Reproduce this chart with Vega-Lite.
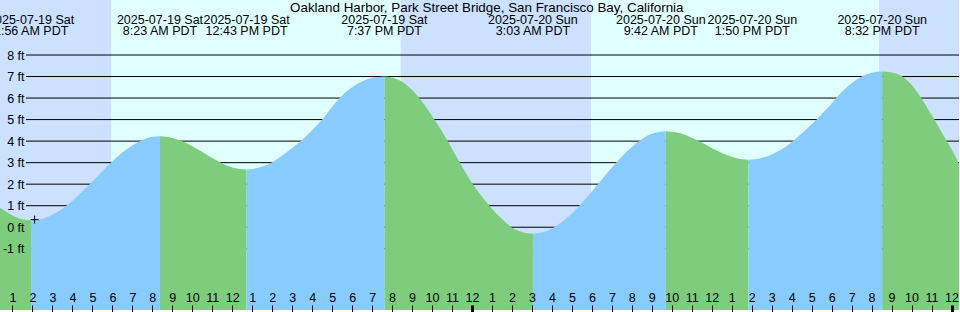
{
  "$schema": "https://vega.github.io/schema/vega-lite/v6.json",
  "width": 960,
  "height": 312,
  "autosize": {"type": "fit", "contains": "padding"},
  "padding": 0,
  "background": "#ffffff",
  "config": {
    "view": {"stroke": null},
    "axis": {"labelFont": "Liberation Sans", "labelFontSize": 12.5, "labelColor": "#000000", "labelOverlap": false}
  },
  "datasets": {
    "bands": [
      {"start": 0.375, "end": 5.96, "kind": "night"},
      {"start": 5.96, "end": 20.425, "kind": "day"},
      {"start": 20.425, "end": 29.96, "kind": "night"},
      {"start": 29.96, "end": 44.375, "kind": "day"},
      {"start": 44.375, "end": 48.375, "kind": "night"}
    ],
    "levels": [{"ft": -1}, {"ft": 0}, {"ft": 1}, {"ft": 2}, {"ft": 3}, {"ft": 4}, {"ft": 5}, {"ft": 6}, {"ft": 7}, {"ft": 8}],
    "tide": [
      {"t": 0.375, "ft": 0.90, "seg": 0, "kind": "falling"},
      {"t": 1.0, "ft": 0.55, "seg": 0, "kind": "falling"},
      {"t": 1.5, "ft": 0.37, "seg": 0, "kind": "falling"},
      {"t": 1.933, "ft": 0.32, "seg": 0, "kind": "falling"},
      {"t": 1.933, "ft": 0.32, "seg": 1, "kind": "rising"},
      {"t": 2.5, "ft": 0.39, "seg": 1, "kind": "rising"},
      {"t": 3.0, "ft": 0.58, "seg": 1, "kind": "rising"},
      {"t": 3.5, "ft": 0.86, "seg": 1, "kind": "rising"},
      {"t": 4.0, "ft": 1.23, "seg": 1, "kind": "rising"},
      {"t": 4.5, "ft": 1.66, "seg": 1, "kind": "rising"},
      {"t": 5.0, "ft": 2.12, "seg": 1, "kind": "rising"},
      {"t": 5.5, "ft": 2.60, "seg": 1, "kind": "rising"},
      {"t": 6.0, "ft": 3.06, "seg": 1, "kind": "rising"},
      {"t": 6.5, "ft": 3.47, "seg": 1, "kind": "rising"},
      {"t": 7.0, "ft": 3.80, "seg": 1, "kind": "rising"},
      {"t": 7.5, "ft": 4.05, "seg": 1, "kind": "rising"},
      {"t": 8.0, "ft": 4.20, "seg": 1, "kind": "rising"},
      {"t": 8.383, "ft": 4.23, "seg": 1, "kind": "rising"},
      {"t": 8.383, "ft": 4.23, "seg": 2, "kind": "falling"},
      {"t": 9.0, "ft": 4.15, "seg": 2, "kind": "falling"},
      {"t": 9.5, "ft": 3.99, "seg": 2, "kind": "falling"},
      {"t": 10.0, "ft": 3.76, "seg": 2, "kind": "falling"},
      {"t": 10.5, "ft": 3.49, "seg": 2, "kind": "falling"},
      {"t": 11.0, "ft": 3.21, "seg": 2, "kind": "falling"},
      {"t": 11.5, "ft": 2.96, "seg": 2, "kind": "falling"},
      {"t": 12.0, "ft": 2.78, "seg": 2, "kind": "falling"},
      {"t": 12.717, "ft": 2.68, "seg": 2, "kind": "falling"},
      {"t": 12.717, "ft": 2.68, "seg": 3, "kind": "rising"},
      {"t": 13.0, "ft": 2.70, "seg": 3, "kind": "rising"},
      {"t": 13.5, "ft": 2.82, "seg": 3, "kind": "rising"},
      {"t": 14.0, "ft": 3.02, "seg": 3, "kind": "rising"},
      {"t": 14.5, "ft": 3.33, "seg": 3, "kind": "rising"},
      {"t": 15.0, "ft": 3.68, "seg": 3, "kind": "rising"},
      {"t": 15.5, "ft": 4.05, "seg": 3, "kind": "rising"},
      {"t": 16.0, "ft": 4.50, "seg": 3, "kind": "rising"},
      {"t": 16.5, "ft": 5.00, "seg": 3, "kind": "rising"},
      {"t": 17.0, "ft": 5.60, "seg": 3, "kind": "rising"},
      {"t": 17.5, "ft": 6.12, "seg": 3, "kind": "rising"},
      {"t": 18.0, "ft": 6.50, "seg": 3, "kind": "rising"},
      {"t": 18.5, "ft": 6.77, "seg": 3, "kind": "rising"},
      {"t": 19.0, "ft": 6.94, "seg": 3, "kind": "rising"},
      {"t": 19.617, "ft": 7.00, "seg": 3, "kind": "rising"},
      {"t": 19.617, "ft": 7.00, "seg": 4, "kind": "falling"},
      {"t": 20.0, "ft": 6.96, "seg": 4, "kind": "falling"},
      {"t": 20.5, "ft": 6.76, "seg": 4, "kind": "falling"},
      {"t": 21.0, "ft": 6.38, "seg": 4, "kind": "falling"},
      {"t": 21.5, "ft": 5.84, "seg": 4, "kind": "falling"},
      {"t": 22.0, "ft": 5.17, "seg": 4, "kind": "falling"},
      {"t": 22.5, "ft": 4.45, "seg": 4, "kind": "falling"},
      {"t": 23.0, "ft": 3.64, "seg": 4, "kind": "falling"},
      {"t": 23.5, "ft": 2.82, "seg": 4, "kind": "falling"},
      {"t": 24.0, "ft": 2.06, "seg": 4, "kind": "falling"},
      {"t": 24.5, "ft": 1.42, "seg": 4, "kind": "falling"},
      {"t": 25.0, "ft": 0.86, "seg": 4, "kind": "falling"},
      {"t": 25.5, "ft": 0.38, "seg": 4, "kind": "falling"},
      {"t": 26.0, "ft": -0.02, "seg": 4, "kind": "falling"},
      {"t": 26.5, "ft": -0.22, "seg": 4, "kind": "falling"},
      {"t": 27.05, "ft": -0.30, "seg": 4, "kind": "falling"},
      {"t": 27.05, "ft": -0.30, "seg": 5, "kind": "rising"},
      {"t": 27.5, "ft": -0.25, "seg": 5, "kind": "rising"},
      {"t": 28.0, "ft": -0.06, "seg": 5, "kind": "rising"},
      {"t": 28.5, "ft": 0.24, "seg": 5, "kind": "rising"},
      {"t": 29.0, "ft": 0.64, "seg": 5, "kind": "rising"},
      {"t": 29.5, "ft": 1.13, "seg": 5, "kind": "rising"},
      {"t": 30.0, "ft": 1.66, "seg": 5, "kind": "rising"},
      {"t": 30.5, "ft": 2.22, "seg": 5, "kind": "rising"},
      {"t": 31.0, "ft": 2.77, "seg": 5, "kind": "rising"},
      {"t": 31.5, "ft": 3.29, "seg": 5, "kind": "rising"},
      {"t": 32.0, "ft": 3.73, "seg": 5, "kind": "rising"},
      {"t": 32.5, "ft": 4.09, "seg": 5, "kind": "rising"},
      {"t": 33.0, "ft": 4.34, "seg": 5, "kind": "rising"},
      {"t": 33.7, "ft": 4.46, "seg": 5, "kind": "rising"},
      {"t": 33.7, "ft": 4.46, "seg": 6, "kind": "falling"},
      {"t": 34.0, "ft": 4.44, "seg": 6, "kind": "falling"},
      {"t": 34.5, "ft": 4.34, "seg": 6, "kind": "falling"},
      {"t": 35.0, "ft": 4.16, "seg": 6, "kind": "falling"},
      {"t": 35.5, "ft": 3.93, "seg": 6, "kind": "falling"},
      {"t": 36.0, "ft": 3.68, "seg": 6, "kind": "falling"},
      {"t": 36.5, "ft": 3.45, "seg": 6, "kind": "falling"},
      {"t": 37.0, "ft": 3.27, "seg": 6, "kind": "falling"},
      {"t": 37.5, "ft": 3.16, "seg": 6, "kind": "falling"},
      {"t": 37.833, "ft": 3.14, "seg": 6, "kind": "falling"},
      {"t": 37.833, "ft": 3.14, "seg": 7, "kind": "rising"},
      {"t": 38.0, "ft": 3.15, "seg": 7, "kind": "rising"},
      {"t": 38.5, "ft": 3.22, "seg": 7, "kind": "rising"},
      {"t": 39.0, "ft": 3.38, "seg": 7, "kind": "rising"},
      {"t": 39.5, "ft": 3.62, "seg": 7, "kind": "rising"},
      {"t": 40.0, "ft": 3.95, "seg": 7, "kind": "rising"},
      {"t": 40.5, "ft": 4.35, "seg": 7, "kind": "rising"},
      {"t": 41.0, "ft": 4.78, "seg": 7, "kind": "rising"},
      {"t": 41.5, "ft": 5.25, "seg": 7, "kind": "rising"},
      {"t": 42.0, "ft": 5.75, "seg": 7, "kind": "rising"},
      {"t": 42.5, "ft": 6.28, "seg": 7, "kind": "rising"},
      {"t": 43.0, "ft": 6.70, "seg": 7, "kind": "rising"},
      {"t": 43.5, "ft": 7.00, "seg": 7, "kind": "rising"},
      {"t": 44.0, "ft": 7.18, "seg": 7, "kind": "rising"},
      {"t": 44.533, "ft": 7.23, "seg": 7, "kind": "rising"},
      {"t": 44.533, "ft": 7.23, "seg": 8, "kind": "falling"},
      {"t": 45.0, "ft": 7.19, "seg": 8, "kind": "falling"},
      {"t": 45.5, "ft": 7.03, "seg": 8, "kind": "falling"},
      {"t": 46.0, "ft": 6.62, "seg": 8, "kind": "falling"},
      {"t": 46.5, "ft": 5.98, "seg": 8, "kind": "falling"},
      {"t": 47.0, "ft": 5.22, "seg": 8, "kind": "falling"},
      {"t": 47.5, "ft": 4.42, "seg": 8, "kind": "falling"},
      {"t": 48.0, "ft": 3.62, "seg": 8, "kind": "falling"},
      {"t": 48.375, "ft": 2.95, "seg": 8, "kind": "falling"}
    ],
    "events": [
      {"t": 1.933, "label": "2025-07-19 Sat\n1:56 AM PDT"},
      {"t": 8.383, "label": "2025-07-19 Sat\n8:23 AM PDT"},
      {"t": 12.717, "label": "2025-07-19 Sat\n12:43 PM PDT"},
      {"t": 19.617, "label": "2025-07-19 Sat\n7:37 PM PDT"},
      {"t": 27.05, "label": "2025-07-20 Sun\n3:03 AM PDT"},
      {"t": 33.7, "label": "2025-07-20 Sun\n9:42 AM PDT"},
      {"t": 37.833, "label": "2025-07-20 Sun\n1:50 PM PDT"},
      {"t": 44.533, "label": "2025-07-20 Sun\n8:32 PM PDT"}
    ],
    "marker": [{"t": 2.11, "ft": 0.355}],
    "heading": [{"title": "Oakland Harbor, Park Street Bridge, San Francisco Bay, California"}]
  },
  "layer": [
    {
      "data": {"name": "bands"},
      "mark": {"type": "rect"},
      "encoding": {
        "x": {
          "field": "start", "type": "quantitative", "title": null,
          "scale": {"domain": [0.375, 48.375], "nice": false, "zero": false},
          "axis": {
            "orient": "top",
            "offset": -312,
            "values": [1,2,3,4,5,6,7,8,9,10,11,12,13,14,15,16,17,18,19,20,21,22,23,24,25,26,27,28,29,30,31,32,33,34,35,36,37,38,39,40,41,42,43,44,45,46,47,48],
            "tickCount": 100,
            "labelExpr": "datum.value % 12 === 0 ? '12' : '' + (datum.value % 12)",
            "domain": false,
            "grid": false,
            "ticks": true,
            "tickSize": 7,
            "tickColor": "#000000",
            "tickWidth": {"condition": {"test": "datum.value % 24 === 0", "value": 3}, "value": 1},
            "labelPadding": 3.3,
            "labelBaseline": "alphabetic",
            "labelFlush": false,
            "labelOverlap": false,
            "title": null,
            "zindex": 1
          }
        },
        "x2": {"field": "end"},
        "color": {
          "field": "kind", "type": "nominal",
          "scale": {"domain": ["night", "day", "falling", "rising"], "range": ["#cce0ff", "#e0ffff", "#7dcd7d", "#88ccff"]},
          "legend": null
        }
      }
    },
    {
      "data": {"name": "levels"},
      "mark": {"type": "rule", "color": "#000000", "strokeWidth": 1},
      "encoding": {
        "x": {"datum": 1.675, "type": "quantitative", "title": null, "scale": {"domain": [0.375, 48.375], "nice": false, "zero": false}},
        "x2": {"datum": 48.375},
        "y": {
          "field": "ft", "type": "quantitative", "title": null,
          "scale": {"domain": [-3.845, 10.555], "nice": false, "zero": false},
          "axis": {
            "orient": "left",
            "offset": -26,
            "values": [-1, 0, 1, 2, 3, 4, 5, 6, 7, 8],
            "tickCount": 100,
            "labelExpr": "datum.value + ' ft'",
            "domain": false,
            "ticks": false,
            "grid": false,
            "labelPadding": 2,
            "labelFlush": false,
            "labelOverlap": false,
            "title": null,
            "zindex": 1
          }
        }
      }
    },
    {
      "data": {"name": "tide"},
      "mark": {"type": "area", "clip": true, "interpolate": "monotone"},
      "encoding": {
        "x": {"field": "t", "type": "quantitative", "title": null, "scale": {"domain": [0.375, 48.375], "nice": false, "zero": false}},
        "y": {"field": "ft", "type": "quantitative", "title": null, "scale": {"domain": [-3.845, 10.555], "nice": false, "zero": false}},
        "y2": {"datum": -3.845},
        "color": {
          "field": "kind", "type": "nominal",
          "scale": {"domain": ["night", "day", "falling", "rising"], "range": ["#cce0ff", "#e0ffff", "#7dcd7d", "#88ccff"]},
          "legend": null
        },
        "detail": {"field": "seg", "type": "nominal"}
      }
    },
    {
      "data": {"name": "marker"},
      "mark": {"type": "point", "shape": "M-1,0H1M0,-1V1", "size": 64, "filled": false, "stroke": "#000000", "strokeWidth": 1, "opacity": 1},
      "encoding": {
        "x": {"field": "t", "type": "quantitative", "title": null, "scale": {"domain": [0.375, 48.375], "nice": false, "zero": false}},
        "y": {"field": "ft", "type": "quantitative", "title": null, "scale": {"domain": [-3.845, 10.555], "nice": false, "zero": false}}
      }
    },
    {
      "data": {"name": "events"},
      "transform": [{"filter": "datum.t !== 33.7 && datum.t !== 37.833"}],
      "mark": {"type": "text", "clip": true, "align": "center", "baseline": "alphabetic", "lineBreak": "\n", "lineHeight": 11.3, "font": "Liberation Sans", "fontSize": 12.5, "color": "#000000"},
      "encoding": {
        "x": {"field": "t", "type": "quantitative", "title": null, "scale": {"domain": [0.375, 48.375], "nice": false, "zero": false}},
        "y": {"datum": 9.447, "type": "quantitative", "title": null, "scale": {"domain": [-3.845, 10.555], "nice": false, "zero": false}},
        "text": {"field": "label", "type": "nominal"}
      }
    },
    {
      "data": {"name": "events"},
      "transform": [{"filter": "datum.t === 33.7"}],
      "mark": {"type": "text", "clip": true, "align": "center", "baseline": "alphabetic", "lineBreak": "\n", "lineHeight": 11.3, "font": "Liberation Sans", "fontSize": 12.5, "color": "#000000", "dx": -5},
      "encoding": {
        "x": {"field": "t", "type": "quantitative", "title": null, "scale": {"domain": [0.375, 48.375], "nice": false, "zero": false}},
        "y": {"datum": 9.447, "type": "quantitative", "title": null, "scale": {"domain": [-3.845, 10.555], "nice": false, "zero": false}},
        "text": {"field": "label", "type": "nominal"}
      }
    },
    {
      "data": {"name": "events"},
      "transform": [{"filter": "datum.t === 37.833"}],
      "mark": {"type": "text", "clip": true, "align": "center", "baseline": "alphabetic", "lineBreak": "\n", "lineHeight": 11.3, "font": "Liberation Sans", "fontSize": 12.5, "color": "#000000", "dx": 4},
      "encoding": {
        "x": {"field": "t", "type": "quantitative", "title": null, "scale": {"domain": [0.375, 48.375], "nice": false, "zero": false}},
        "y": {"datum": 9.447, "type": "quantitative", "title": null, "scale": {"domain": [-3.845, 10.555], "nice": false, "zero": false}},
        "text": {"field": "label", "type": "nominal"}
      }
    },
    {
      "data": {"name": "heading"},
      "mark": {"type": "text", "clip": true, "align": "center", "baseline": "alphabetic", "font": "Liberation Sans", "fontSize": 13.4, "color": "#000000"},
      "encoding": {
        "x": {"datum": 24.74, "type": "quantitative", "title": null, "scale": {"domain": [0.375, 48.375], "nice": false, "zero": false}},
        "y": {"datum": 9.987, "type": "quantitative", "title": null, "scale": {"domain": [-3.845, 10.555], "nice": false, "zero": false}},
        "text": {"field": "title", "type": "nominal"}
      }
    }
  ]
}
